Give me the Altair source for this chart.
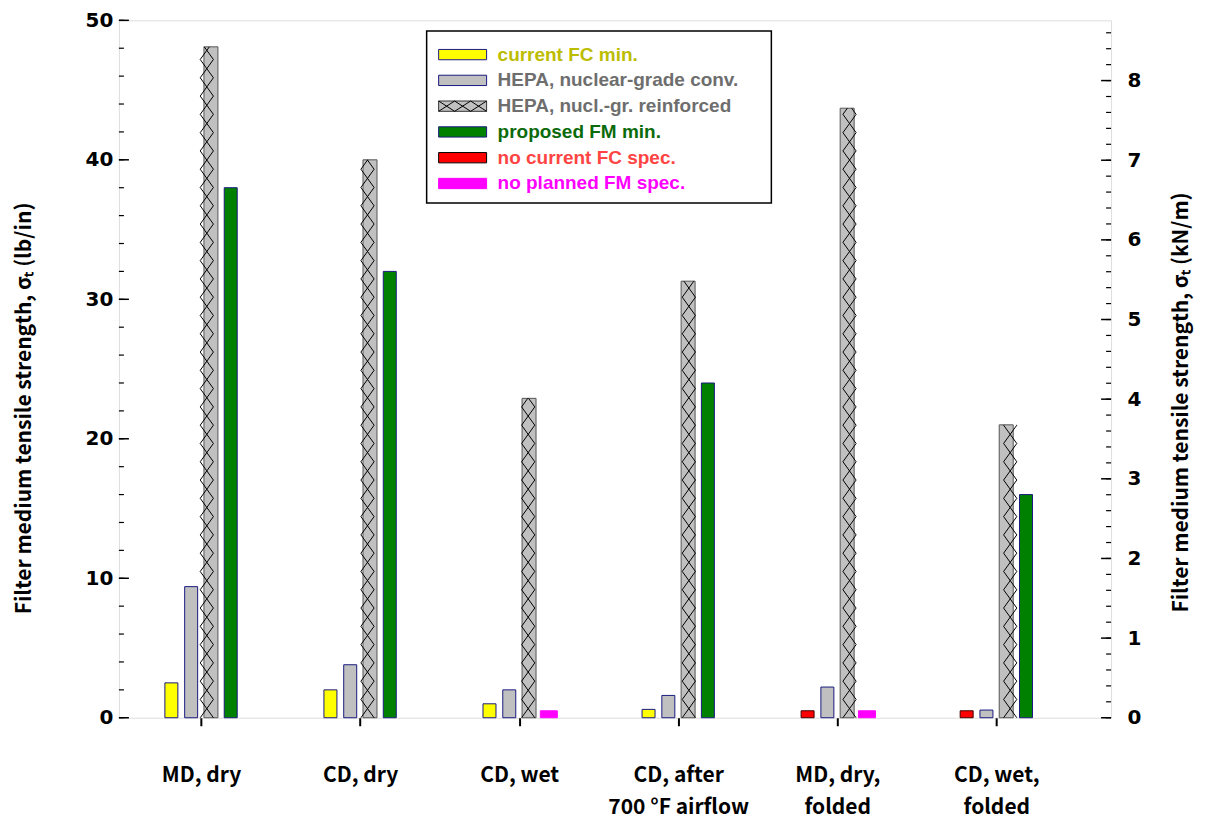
import math
import altair as alt
import pandas as pd

# ---------------- data ----------------
categories = [["MD, dry"], ["CD, dry"], ["CD, wet"], ["CD, after", "700 °F airflow"],
              ["MD, dry,", "folded"], ["CD, wet,", "folded"]]
series_names = ["current FC min.", "HEPA, nuclear-grade conv.", "HEPA, nucl.-gr. reinforced",
                "proposed FM min.", "no current FC spec.", "no planned FM spec."]
fc_min = [2.5, 2.0, 1.0, 0.6, None, None]
hepa_conv = [9.4, 3.8, 2.0, 1.6, 2.2, 0.55]
hepa_reinf = [48.1, 40.0, 22.9, 31.3, 43.7, 21.0]
fm_min = [38.0, 32.0, None, 24.0, None, 16.0]
no_fc_spec = [None, None, None, None, 0.5, 0.5]
no_fm_spec = [None, None, 0.5, None, 0.5, None]
y_ticks_lb = [0, 10, 20, 30, 40, 50]
y_ticks_kn = [0, 1, 2, 3, 4, 5, 6, 7, 8]
LB_TO_KN = 0.175127

# ---------------- styles ----------------
fills = ["#ffff00", "#c0c0c0", "#c0c0c0", "#008000", "#ff0000", "#ff00ff"]
strokes = ["#1a1a80", "#1a1a80", "#555555", "#1a1a80", "#400000", "#ff00ff"]
text_colors = ["#bcbc00", "#6e6e6e", "#6e6e6e", "#0b6b0b", "#ff4444", "#ff00ff"]
slots = [-1.5, -0.5, 0.5, 1.5, -1.5, 1.5]
widths = [13, 13, 14, 13, 13, 17]

W, H = 993, 698
TOP = 12
XDOM = [-0.485, 5.69]
SLOT = 20 * (XDOM[1] - XDOM[0]) / W   # 20 px between bar centres
HALF = 6.6 * (XDOM[1] - XDOM[0]) / W
HATCH_H = 18.3 * 50 / H

all_series = [fc_min, hepa_conv, hepa_reinf, fm_min, no_fc_spec, no_fm_spec]
rows = []
for s, vals in enumerate(all_series):
    for i, v in enumerate(vals):
        if v is None:
            continue
        rows.append(dict(cat=i, series=series_names[s], value=v, xpos=i + slots[s] * SLOT,
                         fill=fills[s], stroke=strokes[s], w=widths[s]))
bars = pd.DataFrame(rows)

# cross-hatching of the reinforced HEPA bars
hatch = []
for i, v in enumerate(hepa_reinf):
    cx = i + slots[2] * SLOT
    L, R = cx - HALF, cx + HALF
    k = 0
    while k * HATCH_H < v:
        y0 = k * HATCH_H
        y1 = min((k + 1) * HATCH_H, v)
        f = (y1 - y0) / HATCH_H
        if k % 2 == 0:
            a0, a1 = L, L + (R - L) * f
            b0, b1 = R, R - (R - L) * f
        else:
            a0, a1 = R, R - (R - L) * f
            b0, b1 = L, L + (R - L) * f
        hatch.append(dict(x=a0, x2=a1, y=y0, y2=y1))
        hatch.append(dict(x=b0, x2=b1, y=y0, y2=y1))
        k += 1
hatch = pd.DataFrame(hatch)

lb_minor = pd.DataFrame({"v": [v for v in range(0, 51, 2)]})
lb_major = pd.DataFrame({"v": y_ticks_lb})
kn_minor = pd.DataFrame({"k": [round(0.2 * j, 1) for j in range(0, 44)]})
kn_major = pd.DataFrame({"k": y_ticks_kn})

xscale = alt.Scale(domain=XDOM, nice=False, zero=False)
yscale = alt.Scale(domain=[0, 50], nice=False, zero=True)
knscale = alt.Scale(domain=[0, 50 * LB_TO_KN], nice=False, zero=True)

lab_arr = "[" + ",".join("'" + "|".join(c) + "'" for c in categories) + "]"
label_expr = "split(" + lab_arr + "[round(datum.value)], '|')"

TITLE_FONT = "Noto Sans CJK JP"
NUM_FONT = "DejaVu Sans"

bar_layer = alt.Chart(bars).mark_bar(strokeWidth=1).encode(
    x=alt.X("xpos:Q", scale=xscale, axis=alt.Axis(
        values=[0, 1, 2, 3, 4, 5], labelExpr=label_expr, ticks=True, tickSize=8, tickWidth=2,
        tickColor="black", domain=False, grid=False, title=None, labelAngle=0,
        labelFont=TITLE_FONT, labelFontSize=21, labelFontWeight="bold", labelLineHeight=32,
        labelPadding=39, labelBaseline="top", labelOverlap=False, labelFlush=False,
        labelColor="black", orient="bottom")),
    y=alt.Y("value:Q", scale=yscale, axis=alt.Axis(
        values=y_ticks_lb, ticks=False, domain=False, grid=False, orient="left",
        labelFont=NUM_FONT, labelFontWeight="bold", labelFontSize=20, labelPadding=6,
        labelFlush=False, labelColor="black",
        title="Filter medium tensile strength, σₜ  (lb/in)", titleFont=TITLE_FONT,
        titleFontSize=21, titleFontWeight="bold", titleColor="black",
        titleAngle=270, titleX=-94, titleY=388, titleAlign="center", titleBaseline="middle")),
    fill=alt.Fill("fill:N", scale=None),
    stroke=alt.Stroke("stroke:N", scale=None),
    size=alt.Size("w:Q", scale=None),
)

hatch_layer = alt.Chart(hatch).mark_rule(color="black", strokeWidth=1).encode(
    x=alt.X("x:Q", scale=xscale, axis=None), x2="x2:Q",
    y=alt.Y("y:Q", scale=yscale, axis=None), y2="y2:Q",
)

lb_minor_layer = alt.Chart(lb_minor).mark_rule(color="black", strokeWidth=1.2).encode(
    y=alt.Y("v:Q", scale=yscale, axis=None), x=alt.value(0), x2=alt.value(5))
lb_major_layer = alt.Chart(lb_major).mark_rule(color="black", strokeWidth=1.5).encode(
    y=alt.Y("v:Q", scale=yscale, axis=None), x=alt.value(0), x2=alt.value(10))

kn_minor_layer = alt.Chart(kn_minor).mark_rule(color="black", strokeWidth=1.2).encode(
    y=alt.Y("k:Q", scale=knscale, axis=alt.Axis(
        values=y_ticks_kn, ticks=False, domain=False, grid=False, orient="right",
        labelFont=NUM_FONT, labelFontWeight="bold", labelFontSize=20, labelPadding=16,
        labelFlush=False, labelColor="black", format="d",
        title="Filter medium tensile strength, σₜ  (kN/m)", titleFont=TITLE_FONT,
        titleFontSize=21, titleFontWeight="bold", titleColor="black",
        titleAngle=270, titleX=70, titleY=382, titleAlign="center", titleBaseline="middle")),
    x=alt.value(W), x2=alt.value(W - 5))
kn_major_layer = alt.Chart(kn_major).mark_rule(color="black", strokeWidth=1.5).encode(
    y=alt.Y("k:Q", scale=knscale, axis=None), x=alt.value(W), x2=alt.value(W - 10))

# ---------------- legend ----------------
leg = pd.DataFrame({"row": list(range(6)), "label": series_names, "tcol": text_colors,
                    "fill": fills, "stroke": ["#1a1a80", "#1a1a80", "#333333", "#1a1a80", "#000000", "#ff00ff"]})
leg["y0"] = leg["row"] - 0.2
leg["y1"] = leg["row"] + 0.2
leg["x0"] = 0.0
leg["x1"] = 1.0
off = 14 - (8 + TOP)
lxs = alt.Scale(domain=[0, 1], range=[320, 368], nice=False, zero=False)
lys = alt.Scale(domain=[0, 5], range=[40.3 + off, 169.3 + off], nice=False, zero=False)

leg_box = alt.Chart(pd.DataFrame({"a": [0]})).mark_rect(
    fill="white", stroke="black", strokeWidth=1.5).encode(
    x=alt.value(308), x2=alt.value(653), y=alt.value(16.7 + off), y2=alt.value(188.7 + off))
leg_sw = alt.Chart(leg).mark_rect(strokeWidth=1).encode(
    x=alt.X("x0:Q", scale=lxs, axis=None), x2="x1:Q",
    y=alt.Y("y0:Q", scale=lys, axis=None), y2="y1:Q",
    fill=alt.Fill("fill:N", scale=None), stroke=alt.Stroke("stroke:N", scale=None))
lh = []
for k in range(3):
    lh.append(dict(x=k / 3, x2=(k + 1) / 3, y=1.8, y2=2.2))
    lh.append(dict(x=k / 3, x2=(k + 1) / 3, y=2.2, y2=1.8))
leg_hatch = alt.Chart(pd.DataFrame(lh)).mark_rule(color="black", strokeWidth=1).encode(
    x=alt.X("x:Q", scale=lxs, axis=None), x2="x2:Q",
    y=alt.Y("y:Q", scale=lys, axis=None), y2="y2:Q")
leg_text = alt.Chart(leg).mark_text(
    align="left", baseline="middle", font="Liberation Sans", fontWeight="bold", fontSize=19).encode(
    x=alt.value(379), y=alt.Y("row:Q", scale=lys, axis=None),
    text="label:N", color=alt.Color("tcol:N", scale=None))

chart = alt.layer(
    bar_layer, hatch_layer, lb_minor_layer, lb_major_layer, kn_minor_layer, kn_major_layer,
    leg_box, leg_sw, leg_hatch, leg_text
).resolve_scale(x="independent", y="independent").properties(
    width=W, height=H,
    autosize=alt.AutoSizeParams(type="none"),
    padding={"left": 111, "top": TOP, "right": 86, "bottom": 104},
).configure_view(stroke="black", strokeWidth=2).configure(background="white")

chart.save("out.html", embed_options={"renderer": "svg", "actions": False})
